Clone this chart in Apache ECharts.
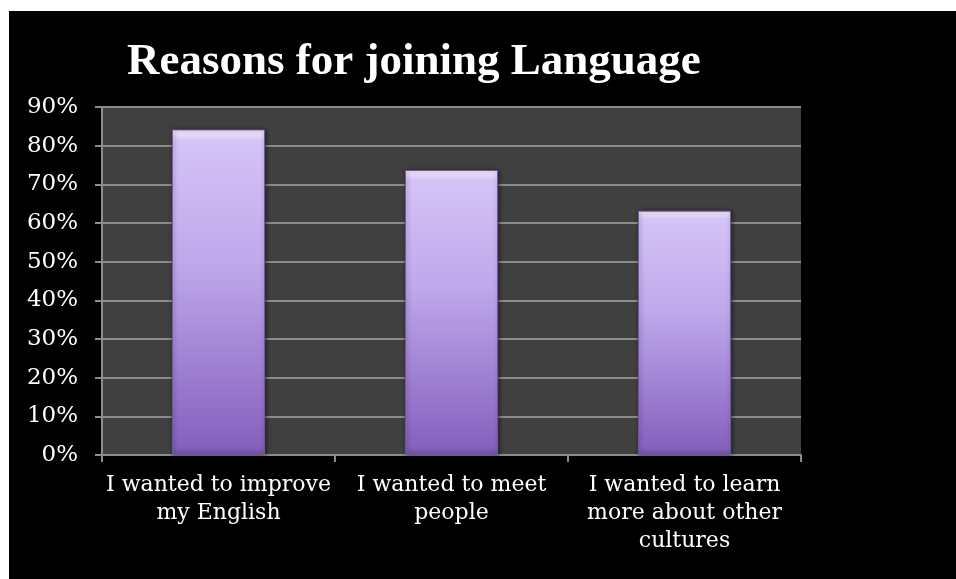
<!DOCTYPE html>
<html>
<head>
<meta charset="utf-8">
<script src="https://cdn.jsdelivr.net/npm/echarts@6/dist/echarts.min.js"></script>
<style>
  html, body { margin: 0; padding: 0; background: #ffffff; width: 956px; height: 579px; overflow: hidden; }
  #chart { position: absolute; left: 9px; top: 11px; width: 947px; height: 568px; background: #000000; }
</style>
</head>
<body>
<div id="chart"></div>
<script>
// Survey answers: share of respondents giving each reason
const titleText = 'Reasons for joining Language';
const categories = [
  'I wanted to improve\nmy English',
  'I wanted to meet\npeople',
  'I wanted to learn\nmore about other\ncultures'
];
const shares = [84.2, 73.7, 63.2];
const yTicks = { min: 0, max: 90, interval: 10 };

const titleFont = '"Liberation Serif", "DejaVu Serif", serif';
const labelFont = '"DejaVu Serif", "Liberation Serif", serif';

const chart = echarts.init(document.getElementById('chart'), null, { renderer: 'canvas' });

chart.setOption({
  backgroundColor: '#000000',
  animation: false,
  title: {
    text: titleText,
    left: 113,
    top: 24,
    textStyle: { color: '#ffffff', fontFamily: titleFont, fontWeight: 'bold', fontSize: 45 }
  },
  grid: {
    left: 93, right: 155, top: 96, bottom: 124,
    show: true, backgroundColor: '#404040', borderWidth: 0
  },
  xAxis: {
    type: 'category',
    data: categories,
    axisLine: { show: true, lineStyle: { color: '#8c8c8c', width: 2 } },
    axisTick: { show: true, length: 7, lineStyle: { color: '#8c8c8c', width: 2 } },
    axisLabel: {
      color: '#ffffff', fontFamily: labelFont, fontSize: 22, lineHeight: 28,
      margin: 16, interval: 0
    }
  },
  yAxis: {
    type: 'value',
    min: yTicks.min, max: yTicks.max, interval: yTicks.interval,
    axisLine: { show: true, lineStyle: { color: '#8c8c8c', width: 2 } },
    axisTick: { show: true, length: 7, lineStyle: { color: '#8c8c8c', width: 2 } },
    axisLabel: {
      color: '#ffffff', fontFamily: labelFont, fontSize: 23, margin: 24,
      formatter: v => v + '%'
    },
    splitLine: { show: true, lineStyle: { color: '#8c8c8c', width: 2 } }
  },
  series: [{
    type: 'bar',
    data: shares,
    barWidth: '40%',
    itemStyle: {
      borderColor: '#7456a3',
      borderWidth: 1,
      color: new echarts.graphic.LinearGradient(0, 0, 0, 1, [
        { offset: 0, color: '#f4eeff' },
        { offset: 0.035, color: '#d4c3f6' },
        { offset: 0.4, color: '#c0a9ec' },
        { offset: 0.97, color: '#8662bf' },
        { offset: 1, color: '#7656ac' }
      ]),
      shadowColor: 'rgba(0,0,0,0.5)',
      shadowBlur: 4,
      shadowOffsetX: 1
    }
  }]
});
</script>
</body>
</html>
